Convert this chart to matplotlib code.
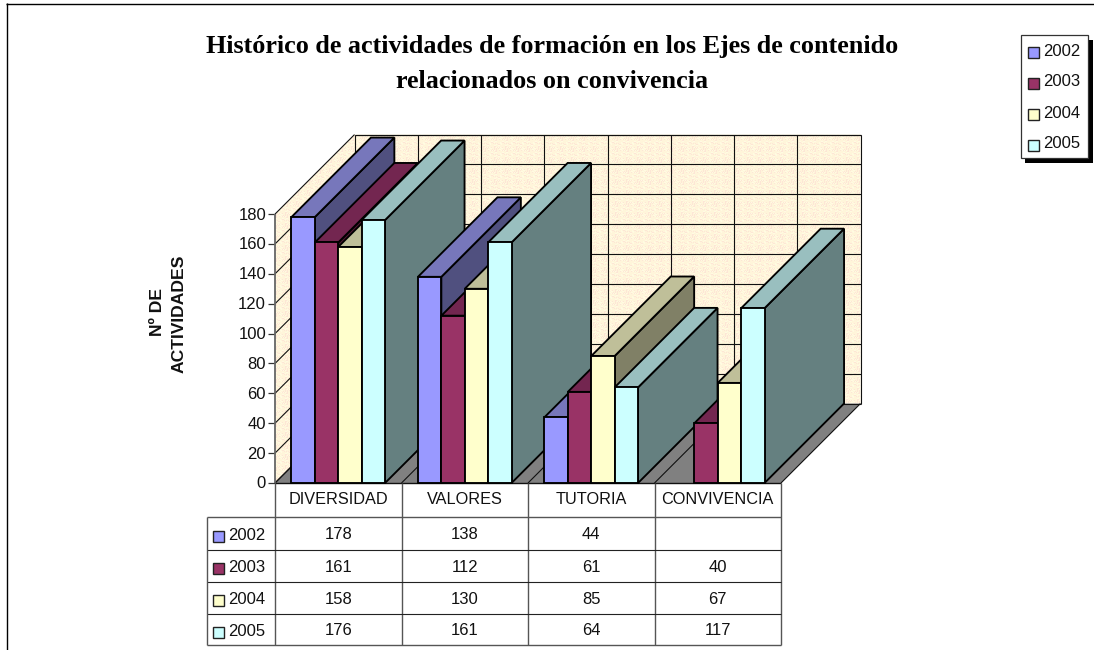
#!/usr/bin/env python
import matplotlib
matplotlib.use('Agg')
import matplotlib.pyplot as plt
import numpy as np
from matplotlib.patches import Polygon, Rectangle

years = ['2002', '2003', '2004', '2005']
categories = ['DIVERSIDAD', 'VALORES', 'TUTORIA', 'CONVIVENCIA']
values_2002 = [178, 138, 44, None]
values_2003 = [161, 112, 61, 40]
values_2004 = [158, 130, 85, 67]
values_2005 = [176, 161, 64, 117]
series = [values_2002, values_2003, values_2004, values_2005]
y_ticks = list(range(0, 181, 20))

front_colors = ['#9999ff', '#993366', '#ffffcc', '#ccffff']
top_colors = ['#7777bb', '#732650', '#bfbf99', '#99bfbf']
side_colors = ['#50507f', '#4d1a33', '#808066', '#658080']

# layout in pixels of the 1094x650 picture
X0, X1 = 275, 781
Y0 = 483
PX_PER_UNIT = 1.494
DEPTH = 79.5
CAT_W = (X1 - X0) / len(categories)
BAR_W = 23.4
GAP = (CAT_W - BAR_W * len(years)) / 2
ROWS = [517, 550, 582, 614, 645]
TABLE_LEFT = 207
FONT = 'Liberation Sans'
TEXT_COLOR = '#111111'


def yp(v):
    return Y0 - v * PX_PER_UNIT


def line(ax, xs, ys, lw=0.8, color='#111111', z=2):
    ax.plot(xs, ys, color=color, lw=lw, solid_capstyle='butt', zorder=z)


def wall_texture():
    # speckled paper look of the walls, a fixed dither and not data
    yy, xx = np.indices((650, 1094))
    speck = (3 * xx * xx + 5 * yy * yy + xx * yy) % 11
    img = np.empty((650, 1094, 3))
    img[:] = matplotlib.colors.to_rgb('#fff5da')
    img[speck < 3] = matplotlib.colors.to_rgb('#fde6d6')
    img[speck > 8] = matplotlib.colors.to_rgb('#fffbe2')
    return img


fig = plt.figure(figsize=(10.94, 6.5), dpi=100)
ax = fig.add_axes([0, 0, 1, 1])
ax.set_xlim(0, 1094)
ax.set_ylim(650, 0)
ax.axis('off')

# outer frame, only top and left
line(ax, [6, 1094], [3.5, 3.5], lw=1.0, color='black')
line(ax, [6.5, 6.5], [3, 650], lw=1.0, color='black')

ax.text(552, 46, 'Histórico de actividades de formación en los Ejes de contenido',
        family='Liberation Serif', weight='bold', fontsize=18.85, ha='center', va='center')
ax.text(552, 81, 'relacionados on convivencia',
        family='Liberation Serif', weight='bold', fontsize=18.85, ha='center', va='center')

# walls and floor
top = yp(y_ticks[-1])
walls = Polygon([(X0, Y0), (X0, top), (X0 + DEPTH, top - DEPTH), (X1 + DEPTH, top - DEPTH),
                 (X1 + DEPTH, Y0 - DEPTH), (X0 + DEPTH, Y0 - DEPTH)],
                facecolor='none', edgecolor='none', zorder=1)
ax.add_patch(walls)
im = ax.imshow(wall_texture(), extent=(0, 1094, 650, 0), interpolation='nearest', aspect='auto', zorder=1)
im.set_clip_path(walls)
ax.add_patch(Polygon([(X0, Y0), (X1, Y0), (X1 + DEPTH, Y0 - DEPTH), (X0 + DEPTH, Y0 - DEPTH)],
                     facecolor='#808080', edgecolor='none', zorder=1))

for tick in y_ticks:
    y = yp(tick)
    line(ax, [X0 + DEPTH, X1 + DEPTH], [y - DEPTH, y - DEPTH])
    line(ax, [X0, X0 + DEPTH], [y, y - DEPTH])
    line(ax, [X0 - 7, X0], [y, y], lw=0.9, color='#333333')
    ax.text(X0 - 9, y + 1, str(tick), family=FONT, fontsize=12, ha='right', va='center', color=TEXT_COLOR)

for i in range(2 * len(categories) + 1):
    x = X0 + DEPTH + i * CAT_W / 2
    line(ax, [x, x], [top - DEPTH, Y0 - DEPTH])
for i in range(len(categories) + 1):
    x = X0 + i * CAT_W
    line(ax, [x, x + DEPTH], [Y0, Y0 - DEPTH])
line(ax, [X0, X0], [top, Y0], lw=1.3, color='#666666')
line(ax, [X0, X1], [Y0, Y0], lw=1.0)
line(ax, [X0 + DEPTH, X1 + DEPTH], [top - DEPTH, top - DEPTH])

# bars, left to right so the nearer faces cover the sides
z = 3
for c in range(len(categories)):
    for s in range(len(years)):
        v = series[s][c]
        if v is None:
            continue
        xl = X0 + c * CAT_W + GAP + s * BAR_W
        xr = xl + BAR_W
        yt = yp(v)
        style = dict(edgecolor='black', lw=1.35, joinstyle='miter', zorder=z)
        ax.add_patch(Polygon([(xr, Y0), (xr, yt), (xr + DEPTH, yt - DEPTH), (xr + DEPTH, Y0 - DEPTH)],
                             facecolor=side_colors[s], **style))
        ax.add_patch(Polygon([(xl, yt), (xr, yt), (xr + DEPTH, yt - DEPTH), (xl + DEPTH, yt - DEPTH)],
                             facecolor=top_colors[s], **style))
        ax.add_patch(Rectangle((xl, yt), BAR_W, Y0 - yt, facecolor=front_colors[s], **style))
        z += 1

ax.text(157, 312, 'Nº DE', family=FONT, weight='bold', fontsize=12.6, rotation=90, ha='center', va='center', color=TEXT_COLOR)
ax.text(179, 314, 'ACTIVIDADES', family=FONT, weight='bold', fontsize=12.6, rotation=90, ha='center', va='center', color=TEXT_COLOR)

# data table
for i in range(len(categories) + 1):
    x = X0 + i * CAT_W
    line(ax, [x, x], [Y0, ROWS[-1]], lw=1.0, color='#555555', z=60)
line(ax, [TABLE_LEFT, X1], [ROWS[0], ROWS[0]], lw=1.0, color='#555555', z=60)
for r in ROWS[1:-1]:
    line(ax, [TABLE_LEFT, X1], [r, r], lw=0.8, color='#222222', z=60)
line(ax, [TABLE_LEFT, X1], [ROWS[-1], ROWS[-1]], lw=1.0, color='#555555', z=60)
line(ax, [TABLE_LEFT, TABLE_LEFT], [ROWS[0], ROWS[-1]], lw=1.0, color='#555555', z=60)

for c, name in enumerate(categories):
    ax.text(X0 + (c + 0.5) * CAT_W, (Y0 + ROWS[0]) / 2, name, family=FONT, fontsize=11.7,
            ha='center', va='center', color=TEXT_COLOR)
for s, year in enumerate(years):
    ym = (ROWS[s] + ROWS[s + 1]) / 2
    ax.add_patch(Rectangle((212.5, ym - 3), 11, 11, facecolor=front_colors[s],
                           edgecolor='#222222', lw=1.0, zorder=60))
    ax.text(228.5, ym + 2, year, family=FONT, fontsize=12, ha='left', va='center', color=TEXT_COLOR)
    for c in range(len(categories)):
        v = series[s][c]
        if v is not None:
            ax.text(X0 + (c + 0.5) * CAT_W, ym + 1, str(v), family=FONT, fontsize=12,
                    ha='center', va='center', color=TEXT_COLOR)

# legend box with hard shadow
ax.add_patch(Rectangle((1025, 40), 68, 123, facecolor='black', edgecolor='none', zorder=70))
ax.add_patch(Rectangle((1021, 35), 67, 123, facecolor='white', edgecolor='#333333', lw=0.9, zorder=71))
for s, year in enumerate(years):
    ym = 52 + s * 31
    ax.add_patch(Rectangle((1027.5, ym - 5.5), 11, 11, facecolor=front_colors[s],
                           edgecolor='#222222', lw=1.0, zorder=72))
    ax.text(1043, ym - 1, year, family=FONT, fontsize=12, ha='left', va='center', color=TEXT_COLOR, zorder=72)

fig.savefig('out.png', dpi=100)
